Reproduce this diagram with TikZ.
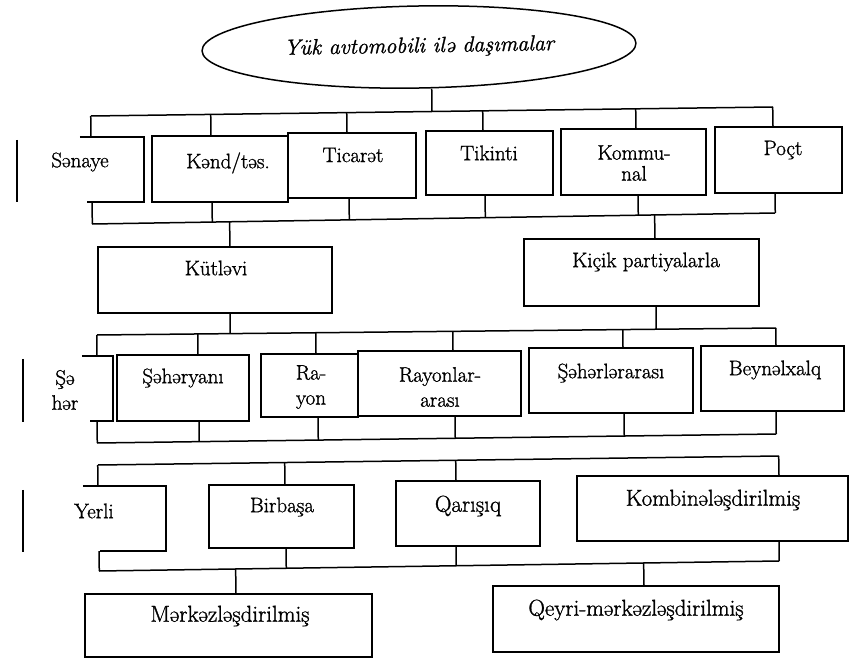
\documentclass[tikz,border=0pt]{standalone}
\usepackage{fontspec}
\setmainfont{Latin Modern Roman}[FakeBold=1.2]
\usetikzlibrary{calc,fit,shapes.geometric}
\tikzset{
  ln/.style={line width=1.5pt},
  box/.style={draw, line width=1.5pt, rectangle, inner sep=0pt},
  ghost/.style={rectangle, inner sep=0pt},
  lbl/.style={inner sep=0pt, align=center, font=\fontsize{21}{25}\selectfont},
  lblb/.style={inner sep=0pt, align=center, font=\fontsize{23}{27}\selectfont},
}
% #1 bus prefix, #2 box node, #3 side (north/south), #4 x position
\newcommand\dropline[4]{%
  \path (#4,0) coordinate (dpx);
  \path (#2.#3 -| dpx) coordinate (dpa);
  \draw[ln] ($(#1l)!(dpa)!(#1r)$) -- (dpa);
}
\begin{document}
\begin{tikzpicture}[x=1pt,y=-1pt]
\useasboundingbox (0,0) rectangle (849,658);

% title
\node[draw, ln, ellipse, inner sep=0pt, minimum width=434pt, minimum height=82pt, rotate=1,
      font=\fontsize{22}{26}\selectfont\itshape] (ell) at (419,47) {Yük avtomobili ilə daşımalar};

% bus lines
\coordinate (b1l) at (91,116);  \coordinate (b1r) at (773,107);
\coordinate (b2l) at (92,224);  \coordinate (b2r) at (775,213);
\coordinate (b3l) at (97,335);  \coordinate (b3r) at (776,328);
\coordinate (b4l) at (97,443);  \coordinate (b4r) at (776,434);
\coordinate (b5l) at (98,465);  \coordinate (b5r) at (779,456);
\coordinate (b6l) at (99,571);  \coordinate (b6r) at (779,561);
\foreach \b in {b1,b2,b3,b4,b5,b6} \draw[ln] (\b l) -- (\b r);

\path ($(ell.south)+(12,0)$) coordinate (ea);
\draw[ln] (ea) -- ($(b1l)!(ea)!(b1r)$);

% ---------- row 1
\node[ghost, fit={(17,137) (144,202)}] (sen) {};
\draw[ln] ($(sen.north west)+(63,0)$) -- (sen.north east) -- (sen.south east) -- ($(sen.south west)+(70,0)$);
\draw[ln] ($(sen.north west)+(0,3)$) -- (sen.south west);
\node[lbl] (senT) at (80,162) {Sənaye};

\node[box, fit={(152,136) (288,202)}] (kend) {};
\node[lbl] (kendT) at (228,163) {Kənd/təs.};
\node[box, fit={(288,133) (416,198)}] (tic) {};
\node[lbl] (ticT) at (353,155) {Ticarət};
\node[box, fit={(426,131) (553,195)}] (tik) {};
\node[lbl] (tikT) at (489,153) {Tikinti};
\node[box, fit={(561,129) (706,195)}] (kom) {};
\node[lbl, font=\fontsize{21}{21}\selectfont] (komT) at (634,163) {Kommu-\\nal};
\node[box, fit={(715,127) (842,193)}] (poct) {};
\node[lbl] (poctT) at (783,150) {Poçt};

\dropline{b1}{sen}{north}{91}
\dropline{b1}{kend}{north}{211}
\dropline{b1}{tic}{north}{347}
\dropline{b1}{tik}{north}{483}
\dropline{b1}{kom}{north}{636}
\dropline{b1}{poct}{north}{773}
\dropline{b2}{sen}{south}{92}
\dropline{b2}{kend}{south}{212}
\dropline{b2}{tic}{south}{349}
\dropline{b2}{tik}{south}{485}
\dropline{b2}{kom}{south}{638}
\dropline{b2}{poct}{south}{775}

% ---------- row 2
\node[box, fit={(98,247) (332,313)}] (kut) {};
\node[lbl] (kutT) at (216,268) {Kütləvi};
\node[box, fit={(524,239) (759,306)}] (kic) {};
\node[lbl] (kicT) at (646,262) {Kiçik partiyalarla};
\dropline{b2}{kut}{north}{230}
\dropline{b2}{kic}{north}{655}
\dropline{b3}{kut}{south}{230}
\dropline{b3}{kic}{south}{656}

% ---------- row 3
\node[ghost, fit={(23,356) (113,421)}] (seh) {};
\draw[ln] ($(seh.north west)+(59,0)$) -- (seh.north east) -- (seh.south east) -- ($(seh.south west)+(67,0)$);
\draw[ln] ($(seh.north west)+(0,3)$) -- ($(seh.south west)+(0,1)$);
\node[lbl] (sehT) at (65,390) {Şə\\hər};
\node[box, fit={(117,355) (249,421)}] (shy) {};
\node[lbl] (shyT) at (183,378) {Şəhəryanı};
\node[box, fit={(261,354) (358,417)}] (ray) {};
\node[lbl] (rayT) at (311,387) {Ra-\\yon};
\node[box, fit={(358,351) (521,416)}] (rar) {};
\node[lbl] (rarT) at (440,387) {Rayonlar-\\arası};
\node[box, fit={(529,348) (693,413)}] (sha) {};
\node[lbl] (shaT) at (611,373) {Şəhərlərarası};
\node[box, fit={(701,346) (844,411)}] (bey) {};
\node[lbl] (beyT) at (775,370) {Beynəlxalq};

\dropline{b3}{seh}{north}{97}
\dropline{b3}{shy}{north}{198}
\dropline{b3}{ray}{north}{316}
\dropline{b3}{rar}{north}{453}
\dropline{b3}{sha}{north}{623}
\dropline{b3}{bey}{north}{776}
\dropline{b4}{seh}{south}{97}
\dropline{b4}{shy}{south}{199}
\dropline{b4}{ray}{south}{318}
\dropline{b4}{rar}{south}{455}
\dropline{b4}{sha}{south}{624}
\dropline{b4}{bey}{south}{776}

% ---------- row 4
\node[ghost, fit={(23,486) (166,551)}] (yer) {};
\draw[ln] ($(yer.north west)+(60,0)$) -- (yer.north east) -- (yer.south east) -- ($(yer.south west)+(77,0)$);
\draw[ln] ($(yer.north west)+(0,4)$) -- ($(yer.south west)+(0,1)$);
\node[lbl] (yerT) at (94,511) {Yerli};
\node[box, fit={(209,485) (354,548)}] (bir) {};
\node[lbl] (birT) at (282,507) {Birbaşa};
\node[box, fit={(396,481) (540,546)}] (qar) {};
\node[lblb] (qarT) at (468,506) {Qarışıq};
\node[box, fit={(577,476) (848,541)}] (kmb) {};
\node[lblb] (kmbT) at (713,500) {Kombinələşdirilmiş};

\dropline{b5}{yer}{north}{98}
\dropline{b5}{bir}{north}{285}
\dropline{b5}{qar}{north}{456}
\dropline{b5}{kmb}{north}{779}
\dropline{b6}{yer}{south}{99}
\dropline{b6}{bir}{south}{286}
\dropline{b6}{qar}{south}{456}
\dropline{b6}{kmb}{south}{779}

% ---------- row 5
\node[box, fit={(85,594) (372,657)}] (mer) {};
\node[lblb] (merT) at (230,616) {Mərkəzləşdirilmiş};
\node[box, fit={(493,586) (779,652)}] (qey) {};
\node[lblb] (qeyT) at (636,610) {Qeyri-mərkəzləşdirilmiş};
\dropline{b6}{mer}{north}{236}
\dropline{b6}{qey}{north}{644}
\end{tikzpicture}
\end{document}
